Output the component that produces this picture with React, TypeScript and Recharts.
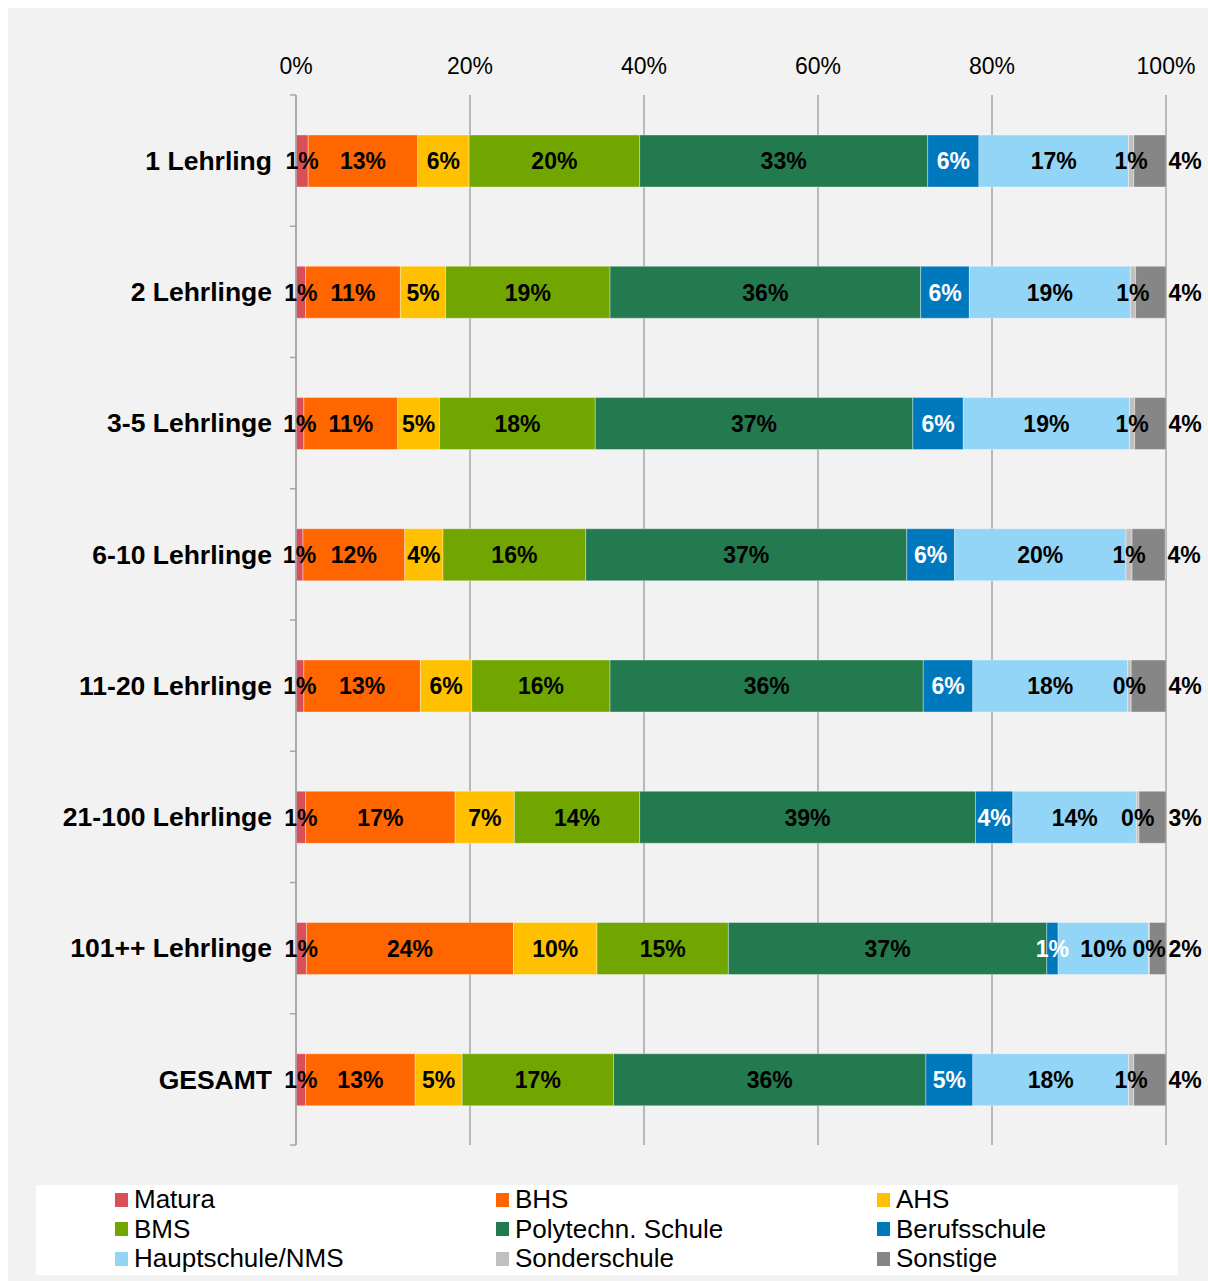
import React from 'react';
import { BarChart, Bar, XAxis, YAxis, CartesianGrid, Legend, LabelList } from 'recharts';

const categories = ['1 Lehrling', '2 Lehrlinge', '3-5 Lehrlinge', '6-10 Lehrlinge', '11-20 Lehrlinge', '21-100 Lehrlinge', '101++ Lehrlinge', 'GESAMT'];
const matura = [1.4, 1.1, 0.9, 0.8, 0.9, 1.1, 1.2, 1.1];
const bhs = [12.6, 10.9, 10.8, 11.7, 13.4, 17.2, 23.8, 12.6];
const ahs = [5.9, 5.2, 4.8, 4.4, 5.9, 6.8, 9.6, 5.4];
const bms = [19.6, 18.9, 17.9, 16.4, 15.9, 14.4, 15.1, 17.4];
const poly = [33.1, 35.7, 36.5, 36.9, 36.0, 38.6, 36.6, 35.9];
const beruf = [5.9, 5.6, 5.8, 5.5, 5.7, 4.3, 1.3, 5.4];
const hauptschule = [17.2, 18.5, 19.1, 19.7, 17.8, 14.2, 10.4, 17.9];
const sonder = [0.6, 0.6, 0.6, 0.7, 0.4, 0.3, 0.1, 0.6];
const sonstige = [3.7, 3.5, 3.6, 3.8, 4.0, 3.1, 1.9, 3.7];

const xTicks = [0, 20, 40, 60, 80, 100];

const seriesKeys = ['matura', 'bhs', 'ahs', 'bms', 'poly', 'beruf', 'hs', 'sonder', 'sonstige'];
const seriesNames = ['Matura', 'BHS', 'AHS', 'BMS', 'Polytechn. Schule', 'Berufsschule', 'Hauptschule/NMS', 'Sonderschule', 'Sonstige'];
const seriesColors = ['#D94F58', '#FF6600', '#FFC000', '#71A600', '#237A4F', '#0078BE', '#93D5F6', '#C0C0C0', '#868686'];
const labelColors = ['#000', '#000', '#000', '#000', '#000', '#fff', '#000', '#000', '#000'];
const seriesValues = [matura, bhs, ahs, bms, poly, beruf, hauptschule, sonder, sonstige];

const data = categories.map((name, i) => {
  const row: any = { name };
  seriesKeys.forEach((k, s) => {
    row[k] = seriesValues[s][i];
  });
  return row;
});

const FONT = '"Liberation Sans", Arial, sans-serif';
const W = 1200;
const H = 1273;
const MARGIN = { top: 57, right: 42, bottom: 6, left: 0 };
const X_AXIS_H = 30;
const Y_AXIS_W = 288;
const LEGEND_H = 130;
const PLOT_TOP = MARGIN.top + X_AXIS_H;
const PLOT_H = H - PLOT_TOP - MARGIN.bottom - LEGEND_H;
const BAND = PLOT_H / categories.length;
const GRID = '#a6a6a6';
const BAR_SIZE = 52;

const XTick = (props: any) => {
  const { x, payload } = props;
  return (
    <text x={x} y={58} dy="0.35em" textAnchor="middle" fill="#000" style={{ fontFamily: FONT, fontSize: 23 }}>
      {`${payload.value}%`}
    </text>
  );
};

const YTick = (props: any) => {
  const { y, payload, index } = props;
  const ax = Y_AXIS_W;
  return (
    <g>
      <line x1={ax - 6} x2={ax} y1={y - BAND / 2} y2={y - BAND / 2} stroke={GRID} strokeWidth={1.5} />
      {index === categories.length - 1 && (
        <line x1={ax - 6} x2={ax} y1={y + BAND / 2} y2={y + BAND / 2} stroke={GRID} strokeWidth={1.5} />
      )}
      <text x={ax - 24} y={y} dy="0.35em" textAnchor="end" fill="#000" style={{ fontFamily: FONT, fontSize: 26.5, fontWeight: 700 }}>
        {payload.value}
      </text>
    </g>
  );
};

const makeLabel = (color: string, outside: boolean) => (props: any) => {
  const x = Number(props.x);
  const y = Number(props.y);
  const width = Number(props.width);
  const height = Number(props.height);
  const value = Number(props.value);
  const cx = outside ? x + width + 19 : x + width / 2;
  return (
    <text x={cx} y={y + height / 2} dy="0.36em" textAnchor="middle" fill={color} style={{ fontFamily: FONT, fontSize: 23, fontWeight: 700 }}>
      {`${Math.round(value)}%`}
    </text>
  );
};

const LegendContent = () => (
  <div style={{ paddingTop: 40, boxSizing: 'border-box', height: LEGEND_H }}>
    <div
      style={{
        background: '#fff',
        height: 90,
        boxSizing: 'border-box',
        paddingLeft: 79,
        paddingTop: 0,
        display: 'grid',
        gridTemplateColumns: '381px 381px 381px',
        gridAutoRows: '29.5px',
        fontFamily: FONT,
        fontSize: 26,
        color: '#000',
      }}
    >
      {seriesNames.map((n, i) => (
        <div key={n} style={{ display: 'flex', alignItems: 'center', whiteSpace: 'nowrap', lineHeight: '29.5px' }}>
          <span style={{ display: 'inline-block', width: 13, height: 14, background: seriesColors[i], marginRight: 6 }} />
          <span>{n}</span>
        </div>
      ))}
    </div>
  </div>
);

export default function App() {
  return (
    <div style={{ position: 'absolute', left: 8, top: 8, width: W, height: H, background: '#f2f2f2', overflow: 'hidden' }}>
      <BarChart
        width={W}
        height={H}
        data={data}
        layout="vertical"
        margin={MARGIN}
        barSize={BAR_SIZE}
        barGap={-BAR_SIZE}
      >
        <CartesianGrid horizontal={false} vertical={true} stroke={GRID} strokeWidth={1.5} />
        <XAxis
          type="number"
          orientation="top"
          domain={[0, 100]}
          allowDataOverflow
          ticks={xTicks}
          axisLine={false}
          tickLine={false}
          height={X_AXIS_H}
          tick={<XTick />}
          interval={0}
        />
        <YAxis
          type="category"
          dataKey="name"
          width={Y_AXIS_W}
          axisLine={{ stroke: GRID, strokeWidth: 1.5 }}
          tickLine={false}
          tick={<YTick />}
          interval={0}
        />
        <Legend
          verticalAlign="bottom"
          height={LEGEND_H}
          wrapperStyle={{ left: 28, width: 1142, bottom: MARGIN.bottom }}
          content={<LegendContent />}
        />
        {seriesKeys.map((k, i) => (
          <Bar
            key={k}
            dataKey={k}
            stackId="bars"
            fill={seriesColors[i]}
            stroke="rgba(255,255,255,0.35)"
            strokeWidth={1}
            isAnimationActive={false}
          />
        ))}
        {seriesKeys.map((k, i) => (
          <Bar
            key={`${k}-label`}
            dataKey={k}
            stackId="labels"
            fill="transparent"
            isAnimationActive={false}
            legendType="none"
          >
            <LabelList dataKey={k} content={makeLabel(labelColors[i], k === 'sonstige')} />
          </Bar>
        ))}
      </BarChart>
    </div>
  );
}
